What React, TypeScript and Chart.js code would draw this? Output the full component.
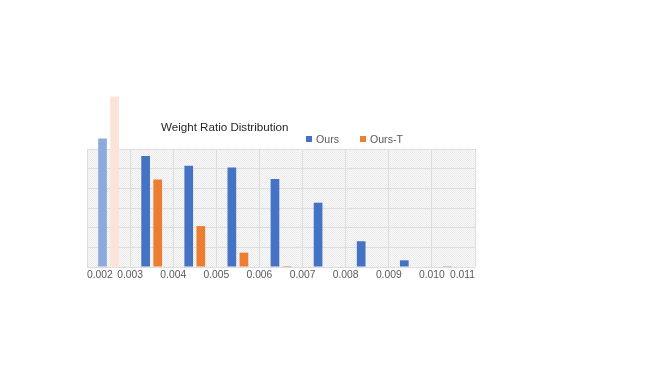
import React, { useEffect, useRef } from "react";
import { Chart, registerables } from "chart.js";

Chart.register(...registerables);

const binStarts = [0.002, 0.003, 0.004, 0.005, 0.006, 0.007, 0.008, 0.009, 0.010];
const binCenters = [0.0025, 0.0035, 0.0045, 0.0055, 0.0065, 0.0075, 0.0085, 0.0095, 0.0105];
const oursValues = [6.53, 5.64, 5.15, 5.06, 4.47, 3.27, 1.31, 0.34, 0.04];
const oursTValues = [8.67, 4.45, 2.08, 0.73, 0.05, 0, 0, 0, 0];
const seriesNames = ["Ours", "Ours-T"];
const titleText = "Weight Ratio Distribution";

const BLUE = "#4472C4";
const BLUE_FADED = "#8EAADB";
const ORANGE = "#ED7D31";
const ORANGE_FADED = "#FBE4D6";

const FONT = "'Liberation Sans', Arial, sans-serif";

const bgPlugin = {
  id: "plotBg",
  beforeDraw(chart: any) {
    const { ctx, chartArea } = chart;
    if (!chartArea) return;
    const pc = document.createElement("canvas");
    pc.width = 2;
    pc.height = 2;
    const p = pc.getContext("2d")!;
    p.fillStyle = "#FAFAFA";
    p.fillRect(0, 0, 2, 2);
    p.fillStyle = "#EAEAEA";
    p.fillRect(0, 0, 1, 1);
    p.fillRect(1, 1, 1, 1);
    const pattern = ctx.createPattern(pc, "repeat");
    ctx.save();
    ctx.fillStyle = pattern || "#F2F2F2";
    ctx.fillRect(chartArea.left, chartArea.top, chartArea.right - chartArea.left, chartArea.bottom - chartArea.top);
    ctx.restore();
  },
};

export default function App() {
  const ref = useRef<HTMLCanvasElement | null>(null);

  useEffect(() => {
    if (!ref.current) return;
    const chart = new Chart(ref.current, {
      type: "bar",
      data: {
        datasets: [
          {
            label: seriesNames[0],
            data: binCenters.map((x, i) => ({ x, y: oursValues[i] })),
            backgroundColor: oursValues.map((_, i) => (i === 0 ? BLUE_FADED : BLUE)),
            categoryPercentage: 0.56,
            barPercentage: 0.72,
            clip: false as any,
          },
          {
            label: seriesNames[1],
            data: binCenters.map((x, i) => ({ x, y: oursTValues[i] })),
            backgroundColor: oursTValues.map((_, i) => (i === 0 ? ORANGE_FADED : ORANGE)),
            categoryPercentage: 0.56,
            barPercentage: 0.72,
            clip: false as any,
          },
        ],
      },
      options: {
        animation: false,
        responsive: false,
        maintainAspectRatio: false,
        layout: { padding: { left: 87, right: 192, top: 149, bottom: 90 } },
        plugins: {
          legend: { display: false },
          title: { display: false },
          tooltip: { enabled: false },
        },
        scales: {
          x: {
            type: "linear",
            offset: false,
            min: binStarts[0],
            max: 0.011,
            afterFit: (s: any) => {
              s.height = 20;
            },
            afterBuildTicks: (s: any) => {
              s.ticks = [...binStarts, 0.011].map((v) => ({ value: v }));
            },
            ticks: {
              autoSkip: false,
              maxRotation: 0,
              align: "inner",
              padding: 2,
              color: "#595959",
              font: { family: FONT, size: 10.3 },
              callback: (v: any) => Number(v).toFixed(3),
            },
            grid: { color: "#DDDDDD", drawTicks: false, lineWidth: 1, offset: false },
            border: { display: false },
          },
          y: {
            min: 0,
            max: 6,
            ticks: { display: false, stepSize: 1 },
            afterFit: (s: any) => {
              s.width = 0;
            },
            grid: { color: "#DDDDDD", drawTicks: false },
            border: { display: false },
          },
        },
      },
      plugins: [bgPlugin],
    } as any);
    return () => chart.destroy();
  }, []);

  const textStyle: React.CSSProperties = {
    position: "absolute",
    fontFamily: FONT,
    whiteSpace: "nowrap",
    lineHeight: 1,
  };

  return (
    <div style={{ position: "absolute", left: 0, top: 0, width: 667, height: 377, background: "#fff" }}>
      <canvas ref={ref} width={667} height={377} style={{ position: "absolute", left: 0, top: 0, width: 667, height: 377 }} />
      <div style={{ ...textStyle, left: 161, top: 121, fontSize: 11.6, color: "#262626" }}>{titleText}</div>
      <div style={{ ...textStyle, left: 306, top: 134, fontSize: 10.6, color: "#595959", display: "flex", alignItems: "center" }}>
        <span style={{ display: "inline-block", width: 6, height: 6, background: BLUE, marginRight: 4 }} />
        <span>{seriesNames[0]}</span>
        <span style={{ display: "inline-block", width: 6, height: 6, background: ORANGE, marginLeft: 21, marginRight: 4 }} />
        <span>{seriesNames[1]}</span>
      </div>
    </div>
  );
}
